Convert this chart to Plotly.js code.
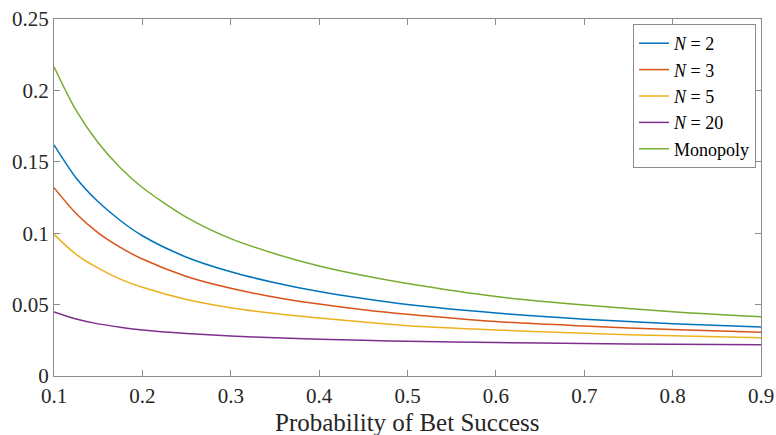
<!DOCTYPE html>
<html>
<head>
<meta charset="utf-8">
<script src="https://cdn.plot.ly/plotly-3.0.1.min.js"></script>
<style>html,body{margin:0;padding:0;background:#fff;}#chart{width:776px;height:435px;}</style>
</head>
<body>
<div id="chart"></div>
<script>
const p    = [0.1,    0.125,  0.15,   0.175,  0.2,    0.25,   0.3,    0.35,   0.4,    0.45,   0.5,    0.6,    0.7,    0.8,    0.9];
const n2   = [0.1618, 0.1387, 0.1220, 0.1089, 0.0982, 0.0832, 0.0730, 0.0653, 0.0591, 0.0542, 0.0500, 0.0441, 0.0398, 0.0366, 0.0343];
const n3   = [0.1319, 0.1138, 0.1002, 0.0901, 0.0819, 0.0697, 0.0614, 0.0552, 0.0504, 0.0464, 0.0432, 0.0381, 0.0350, 0.0325, 0.0306];
const n5   = [0.0992, 0.0852, 0.0755, 0.0678, 0.0621, 0.0536, 0.0478, 0.0437, 0.0406, 0.0378, 0.0352, 0.0322, 0.0299, 0.0281, 0.0268];
const n20  = [0.0448, 0.0399, 0.0365, 0.0342, 0.0323, 0.0298, 0.0280, 0.0268, 0.0258, 0.0250, 0.0243, 0.0234, 0.0227, 0.0222, 0.0219];
const mono = [0.2166, 0.1860, 0.1633, 0.1458, 0.1320, 0.1111, 0.0962, 0.0856, 0.0770, 0.0703, 0.0647, 0.0556, 0.0497, 0.0450, 0.0415];
const names = ['<i>N</i> = 2', '<i>N</i> = 3', '<i>N</i> = 5', '<i>N</i> = 20', 'Monopoly'];
const xTitle = 'Probability of Bet Success';
const xTicks = [0.1, 0.2, 0.3, 0.4, 0.5, 0.6, 0.7, 0.8, 0.9];
const xTickText = ['0.1', '0.2', '0.3', '0.4', '0.5', '0.6', '0.7', '0.8', '0.9'];
const yTicks = [0, 0.05, 0.1, 0.15, 0.2, 0.25];
const yTickText = ['0', '0.05', '0.1', '0.15', '0.2', '0.25'];
const colors = ['#0072BD', '#D95319', '#EDB120', '#7E2F8E', '#77AC30'];
const series = [n2, n3, n5, n20, mono];

const traces = series.map((s, i) => ({
  x: p, y: s, type: 'scatter', mode: 'lines', name: names[i],
  line: {color: colors[i], width: 1.5, shape: 'spline', smoothing: 0.8}
}));

const fontFam = "Liberation Serif";
const axisCommon = {
  showline: true, linecolor: '#8c8c8c', linewidth: 1, mirror: 'ticks',
  ticks: 'inside', ticklen: 6, tickcolor: '#8c8c8c', tickwidth: 1,
  showgrid: false, zeroline: false,
  tickfont: {family: fontFam, size: 21, color: '#262626'}
};

const layout = {
  width: 776, height: 435,
  margin: {l: 54, r: 15, t: 19, b: 59},
  paper_bgcolor: '#fff', plot_bgcolor: '#fff',
  font: {family: fontFam, color: '#262626'},
  showlegend: true,
  legend: {
    x: 0.993, y: 0.986, xanchor: 'right', yanchor: 'top',
    bgcolor: '#fff', bordercolor: '#8c8c8c', borderwidth: 1,
    font: {family: fontFam, size: 18, color: '#000'},
    itemwidth: 30, tracegroupgap: 0
  },
  xaxis: Object.assign({}, axisCommon, {
    range: [0.1, 0.9], tickmode: 'array', tickvals: xTicks, ticktext: xTickText,
    ticklabelstandoff: 1
  }),
  yaxis: Object.assign({}, axisCommon, {
    range: [0, 0.25], tickmode: 'array', tickvals: yTicks, ticktext: yTickText
  }),
  annotations: [{
    text: xTitle, xref: 'paper', yref: 'paper', x: 0.5, y: 0,
    xanchor: 'center', yanchor: 'top', yshift: -31, showarrow: false,
    font: {family: fontFam, size: 25, color: '#262626'}
  }]
};

Plotly.newPlot('chart', traces, layout, {displayModeBar: false, staticPlot: true});
</script>
</body>
</html>
